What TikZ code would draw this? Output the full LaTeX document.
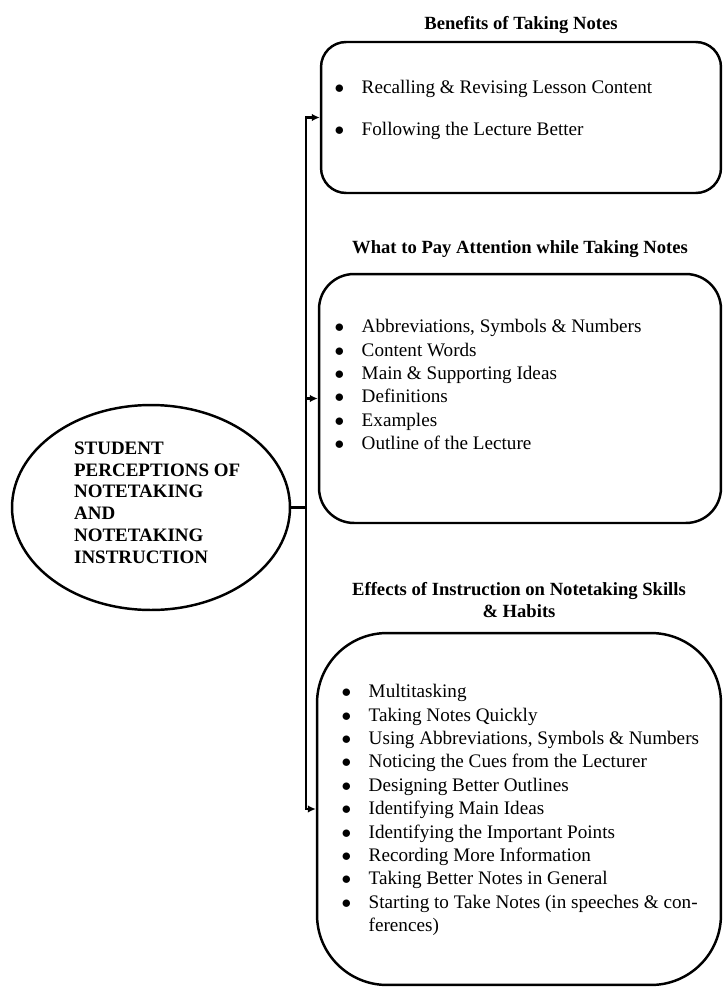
\documentclass[tikz,border=0pt]{standalone}
\usepackage{fontspec}
\setmainfont{Liberation Serif}
\usetikzlibrary{positioning, arrows.meta, shapes.geometric}

\begin{document}
\begin{tikzpicture}[
    x=0.02cm, y=-0.02cm,
    line width=1.4pt,
    topic/.style={draw, ellipse, inner sep=0pt, minimum width=5.56cm, minimum height=4.1cm,
                  align=left, text depth=5.8pt, font=\bfseries\fontsize{10.8}{12.4}\selectfont},
    card/.style={draw, inner sep=0pt},
    ttl/.style={font=\bfseries\fontsize{10.6}{12.5}\selectfont, align=center, inner sep=0pt},
    lst/.style={font=\fontsize{10.9}{13.3}\selectfont, inner sep=0pt},
    a/.style={-{Latex[length=1.6mm, width=1.5mm]}, line width=1.4pt},
  ]
    \useasboundingbox (0,0) rectangle (723,987);

    \node[topic] (ell) at (151,507.5) {\hspace*{7pt}STUDENT\\\hspace*{7pt}PERCEPTIONS OF\\\hspace*{7pt}NOTETAKING\\\hspace*{7pt}AND\\\hspace*{7pt}NOTETAKING\\\hspace*{7pt}INSTRUCTION};

    \node[card, rounded corners=5mm, minimum width=8cm, minimum height=3.02cm] (c1) at (521,117.5) {};
    \node[card, rounded corners=7mm, minimum width=8.04cm, minimum height=4.98cm] (c2) at (520,398.5) {};
    \node[card, rounded corners=14mm, minimum width=8.08cm, minimum height=7.04cm] (c3) at (519,809) {};

    \node[ttl, above=1.1mm of c1] (t1) {Benefits of Taking Notes};
    \node[ttl, above=2.8mm of c2] (t2) {What to Pay Attention while Taking Notes};
    \node[ttl, above=2.6mm of c3] (t3) {Effects of Instruction on Notetaking Skills\\\& Habits};

    \node[lst, below right=7.1mm and 2.7mm of c1.north west] (l1) {%
      \begin{tabular}{@{}l@{\hspace{10pt}}l@{}}
        $\bullet$ & Recalling \& Revising Lesson Content\\[10.2pt]
        $\bullet$ & Following the Lecture Better
      \end{tabular}};
    \node[lst, below right=8.5mm and 3.1mm of c2.north west] (l2) {%
      \begin{tabular}{@{}l@{\hspace{10pt}}l@{}}
        $\bullet$ & Abbreviations, Symbols \& Numbers\\
        $\bullet$ & Content Words\\
        $\bullet$ & Main \& Supporting Ideas\\
        $\bullet$ & Definitions\\
        $\bullet$ & Examples\\
        $\bullet$ & Outline of the Lecture
      \end{tabular}};
    \node[lst, below right=9.7mm and 4.9mm of c3.north west] (l3) {%
      \begin{tabular}{@{}l@{\hspace{10pt}}l@{}}
        $\bullet$ & Multitasking\\
        $\bullet$ & Taking Notes Quickly\\
        $\bullet$ & Using Abbreviations, Symbols \& Numbers\\
        $\bullet$ & Noticing the Cues from the Lecturer\\
        $\bullet$ & Designing Better Outlines\\
        $\bullet$ & Identifying Main Ideas\\
        $\bullet$ & Identifying the Important Points\\
        $\bullet$ & Recording More Information\\
        $\bullet$ & Taking Better Notes in General\\
        $\bullet$ & Starting to Take Notes (in speeches \& con-\\
                  & ferences)
      \end{tabular}};

    % branch from the topic to the three cards
    \coordinate[right=3mm of ell] (hub);
    \draw (ell.east) -- (hub);
    \draw[a] (hub) |- (c1.west);
    \draw[a] (hub) |- (c2.west);
    \draw[a] (hub) |- (c3.west);
  \end{tikzpicture}
\end{document}
